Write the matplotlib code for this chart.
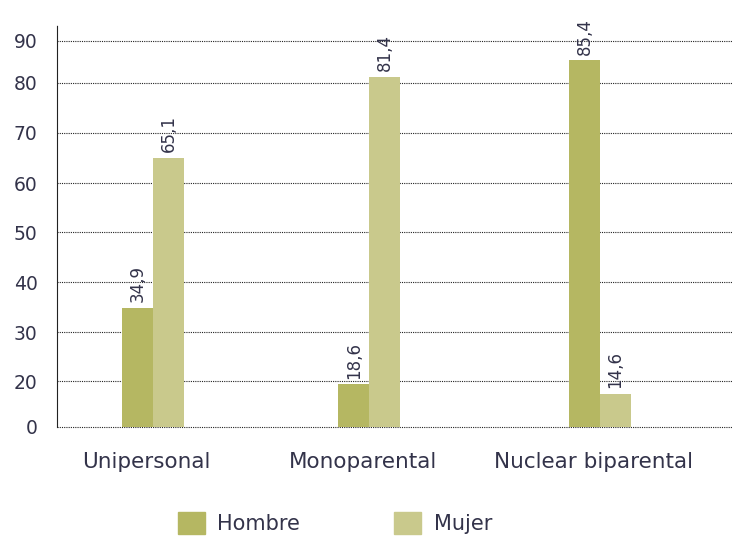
import matplotlib
matplotlib.use("Agg")
import matplotlib.pyplot as plt
from matplotlib.patches import Patch
import numpy as np

categories = ["Unipersonal", "Monoparental", "Nuclear biparental"]
hombre = [34.9, 18.6, 85.4]
mujer = [65.1, 81.4, 14.6]
y_ticks = [0, 20, 30, 40, 50, 60, 70, 80, 90]

# the source axis is not evenly spaced: knots of the piecewise scale (value -> px)
scale_vals = [0, 20, 30, 40, 50, 60, 70, 80, 90, 100]
scale_pos = [0, 45.4, 94.7, 144.4, 194.7, 243.7, 294.0, 344.4, 386.0, 427.6]

# group centres, the source spaces them a little unevenly
group_x = np.array([0, 0.967, 2])


def fwd(v):
    return np.interp(v, scale_vals, scale_pos)


def inv(p):
    return np.interp(p, scale_pos, scale_vals)


c_hombre = "#b5b762"
c_mujer = "#c9c98c"
txt = "#33334a"

plt.rcParams["font.family"] = ["DejaVu Sans"]

fig = plt.figure(figsize=(7.33, 5.36), dpi=100)
ax = fig.add_axes([0.078, 0.204, 0.922, 0.749])
ax.set_yscale("function", functions=(fwd, inv))

w = 0.139
b1 = ax.bar(group_x - w / 2, hombre, w, color=c_hombre, zorder=3)
b2 = ax.bar(group_x + w / 2, mujer, w, color=c_mujer, zorder=3)

for bars, vals in [(b1, hombre), (b2, mujer)]:
    for r, v in zip(bars, vals):
        ax.annotate(f"{v:.1f}".replace(".", ","),
                    (r.get_x() + r.get_width() / 2, v),
                    xytext=(0, 4), textcoords="offset points",
                    rotation=90, ha="center", va="bottom",
                    fontsize=12, color=txt)

ax.set_ylim(0, 93.8)
ax.set_xlim(-0.43, 2.595)
ax.set_yticks(y_ticks)
ax.set_xticks(group_x - 0.03)
ax.set_xticklabels(categories)
ax.tick_params(axis="y", length=0, pad=14, labelsize=13.5, labelcolor=txt)
ax.tick_params(axis="x", length=0, pad=18, labelsize=15.5, labelcolor=txt)
ax.yaxis.grid(True, linestyle=(0, (1, 1)), color="#222222", linewidth=0.8, zorder=0)
for gl in ax.get_ygridlines():
    gl.set_clip_on(False)

for s in ["top", "right", "bottom"]:
    ax.spines[s].set_visible(False)
ax.spines["left"].set_linestyle((0, (1, 1)))
ax.spines["left"].set_linewidth(0.8)
ax.spines["left"].set_color("#222222")

handles = [Patch(color=c_hombre, label="Hombre"), Patch(color=c_mujer, label="Mujer")]
fig.legend(handles=handles, loc="center", bbox_to_anchor=(0.457, 0.024), ncol=2,
           frameon=False, fontsize=15, labelcolor=txt, handlelength=1.3,
           handleheight=1.3, handletextpad=0.6, columnspacing=4.5)

fig.savefig("out.png", dpi=100)
